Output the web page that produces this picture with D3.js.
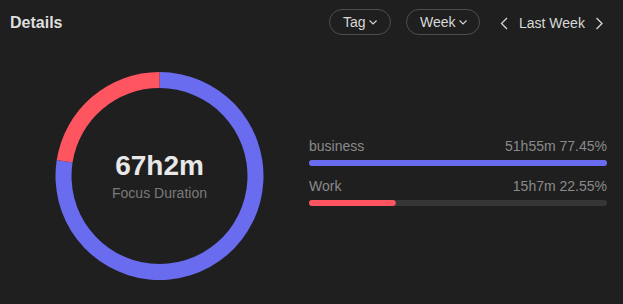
<!DOCTYPE html>
<html>
<head>
<meta charset="utf-8">
<script src="https://cdn.jsdelivr.net/npm/d3@7"></script>
<style>
  html, body { margin: 0; padding: 0; background: #1f1f1f; }
  svg { display: block; font-family: "Liberation Sans", Arial, sans-serif; }
</style>
</head>
<body>
<svg width="623" height="304"></svg>
<script>
const svg = d3.select('svg');
const width = +svg.attr('width');
const height = +svg.attr('height');

// data
const tags = ['business', 'Work'];
const minutes = [3115, 907];
const colors = ['#6a6cf0', '#ff5561'];
const totalLabel = '67h2m';
const centerLabel = 'Focus Duration';
const pills = ['Tag', 'Week'];
const periodLabel = 'Last Week';

const total = d3.sum(minutes);
const fmtDur = m => Math.floor(m / 60) + 'h' + (m % 60) + 'm';
const fmtPct = m => (m / total * 100).toFixed(2) + '%';

svg.append('rect').attr('width', width).attr('height', height).attr('fill', '#1f1f1f');

// header
svg.append('text')
  .attr('x', 10).attr('y', 28)
  .attr('font-size', 16).attr('font-weight', 'bold')
  .attr('fill', '#dedede')
  .text('Details');

const pillBoxes = [{ x: 329, w: 61 }, { x: 406, w: 73 }];
pills.forEach((p, i) => {
  const b = pillBoxes[i];
  const g = svg.append('g');
  g.append('rect')
    .attr('x', b.x + 0.5).attr('y', 9.5)
    .attr('width', b.w).attr('height', 25).attr('rx', 12.5)
    .attr('fill', 'none').attr('stroke', '#4e4e4e');
  const t = g.append('text')
    .attr('x', b.x + 14).attr('y', 27)
    .attr('font-size', 14).attr('fill', '#d8d8d8')
    .text(p);
  const tw = t.node().getComputedTextLength();
  const cx = b.x + 14 + tw + 4;
  g.append('path')
    .attr('d', `M${cx},20.5 L${cx + 3.5},24 L${cx + 7},20.5`)
    .attr('fill', 'none').attr('stroke', '#d8d8d8').attr('stroke-width', 1.1);
});

svg.append('path')
  .attr('d', 'M507,18 L501.5,23.5 L507,29')
  .attr('fill', 'none').attr('stroke', '#d8d8d8').attr('stroke-width', 1.3);
svg.append('text')
  .attr('x', 519).attr('y', 28)
  .attr('font-size', 14).attr('fill', '#d8d8d8')
  .text(periodLabel);
svg.append('path')
  .attr('d', 'M596.5,18 L602,23.5 L596.5,29')
  .attr('fill', 'none').attr('stroke', '#d8d8d8').attr('stroke-width', 1.3);

// donut
const cx = 159.5, cy = 176;
const pie = d3.pie().sort(null).value(d => d);
const arc = d3.arc().innerRadius(88).outerRadius(104);
const donut = svg.append('g').attr('transform', `translate(${cx},${cy})`);
donut.selectAll('path')
  .data(pie(minutes))
  .join('path')
  .attr('d', arc)
  .attr('fill', (d, i) => colors[i]);

donut.append('text')
  .attr('text-anchor', 'middle').attr('y', -1)
  .attr('font-size', 28).attr('font-weight', 'bold')
  .attr('fill', '#e8e8e8')
  .text(totalLabel);
donut.append('text')
  .attr('text-anchor', 'middle').attr('y', 22)
  .attr('font-size', 14)
  .attr('fill', '#7a7a7a')
  .text(centerLabel);

// bars
const x = d3.scaleLinear().domain([0, d3.max(minutes)]).range([309, 607]);
const y = d3.scaleBand().domain(tags).range([140, 220]).paddingInner(0);
const rows = svg.append('g');
tags.forEach((t, i) => {
  const top = y(t);
  rows.append('text')
    .attr('x', 309).attr('y', top + 11)
    .attr('font-size', 14).attr('fill', '#8a8a8a')
    .text(t);
  rows.append('text')
    .attr('x', 607).attr('y', top + 11).attr('text-anchor', 'end')
    .attr('font-size', 14).attr('fill', '#8a8a8a')
    .text(fmtDur(minutes[i]) + ' ' + fmtPct(minutes[i]));
  rows.append('rect')
    .attr('x', x(0)).attr('y', top + 20)
    .attr('width', x.range()[1] - x(0)).attr('height', 6).attr('rx', 3)
    .attr('fill', '#363636');
  rows.append('rect')
    .attr('x', x(0)).attr('y', top + 20)
    .attr('width', x(minutes[i]) - x(0)).attr('height', 6).attr('rx', 3)
    .attr('fill', colors[i]);
});
</script>
</body>
</html>
